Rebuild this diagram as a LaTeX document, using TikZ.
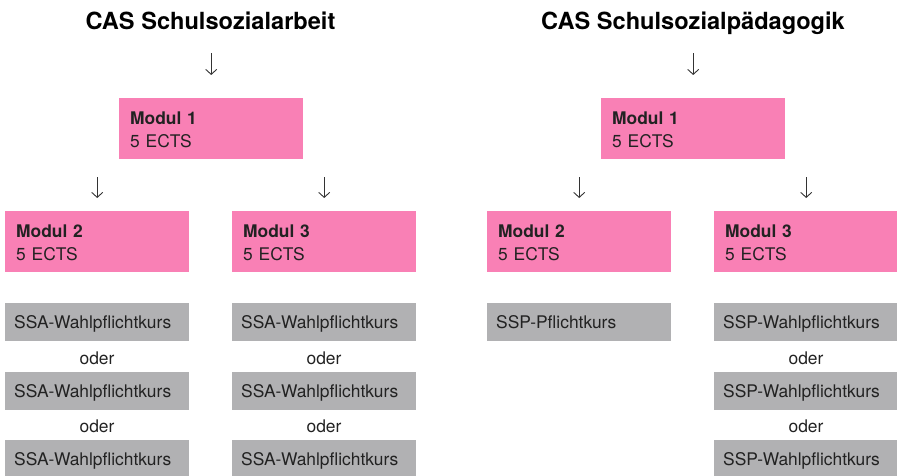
\documentclass[tikz,border=0pt]{standalone}
\usepackage{fontspec}
\setmainfont{TeX Gyre Heros}
\usetikzlibrary{arrows.meta}
\definecolor{pinkc}{HTML}{F980B5}
\definecolor{grayc}{HTML}{B1B1B3}
\definecolor{txtc}{HTML}{222222}
\definecolor{arrc}{HTML}{333333}
\begin{document}
\begin{tikzpicture}[x=1pt,y=-1pt,
 title/.style={font=\fontsize{23.6}{27}\selectfont\bfseries, anchor=base, inner sep=0pt, text=black},
 pinkbox/.style={fill=pinkc, anchor=north west, inner xsep=11pt, inner ysep=12pt, text width=162pt, align=left, text height=14.3pt, text depth=22.7pt, font=\fontsize{17.4}{22.7}\selectfont, text=txtc},
 graybox/.style={fill=grayc, anchor=north west, inner xsep=9pt, inner ysep=0pt, text width=166pt, align=left, text height=25.7pt, text depth=12.3pt, font=\fontsize{17.4}{20}\selectfont, text=txtc},
 oder/.style={anchor=base, inner sep=0pt, font=\fontsize{17.4}{20}\selectfont, text=txtc},
 arr/.style={draw=arrc, line width=0.9pt, -{Straight Barb[length=5pt,width=11pt]}}]
\useasboundingbox (0,0) rectangle (897,476);
% left column
\node[title] (t1) at (210.5,29.3) {CAS Schulsozialarbeit};
\node[pinkbox] (m1) at (119,98) {\textbf{Modul 1}\\5 ECTS};
\node[pinkbox] (m2) at (5,211) {\textbf{Modul 2}\\5 ECTS};
\node[pinkbox] (m3) at (232,211) {\textbf{Modul 3}\\5 ECTS};
\node[graybox] (a1) at (5,303) {SSA-Wahlpflichtkurs};
\node[oder] (ao1) at (97,364) {oder};
\node[graybox] (a2) at (5,372) {SSA-Wahlpflichtkurs};
\node[oder] (ao2) at (97,432) {oder};
\node[graybox] (a3) at (5,440) {SSA-Wahlpflichtkurs};
\node[graybox] (b1) at (232,303) {SSA-Wahlpflichtkurs};
\node[oder] (bo1) at (324,364) {oder};
\node[graybox] (b2) at (232,372) {SSA-Wahlpflichtkurs};
\node[oder] (bo2) at (324,432) {oder};
\node[graybox] (b3) at (232,440) {SSA-Wahlpflichtkurs};
\draw[arr, shorten <=24pt, shorten >=23pt] (t1.base -| m1.north) -- (m1.north);
\draw[arr, shorten <=18pt, shorten >=13pt] (m1.south -| m2.north) -- (m2.north);
\draw[arr, shorten <=18pt, shorten >=13pt] (m1.south -| m3.north) -- (m3.north);
% right column
\node[title] (t2) at (693,29.3) {CAS Schulsozialpädagogik};
\node[pinkbox] (n1) at (601,98) {\textbf{Modul 1}\\5 ECTS};
\node[pinkbox] (n2) at (487,211) {\textbf{Modul 2}\\5 ECTS};
\node[pinkbox] (n3) at (714,211) {\textbf{Modul 3}\\5 ECTS};
\node[graybox] (c1) at (487,303) {SSP-Pflichtkurs};
\node[graybox] (d1) at (714,303) {SSP-Wahlpflichtkurs};
\node[oder] (do1) at (806,364) {oder};
\node[graybox] (d2) at (714,372) {SSP-Wahlpflichtkurs};
\node[oder] (do2) at (806,432) {oder};
\node[graybox] (d3) at (714,440) {SSP-Wahlpflichtkurs};
\draw[arr, shorten <=24pt, shorten >=23pt] (t2.base -| n1.north) -- (n1.north);
\draw[arr, shorten <=18pt, shorten >=13pt] (n1.south -| n2.north) -- (n2.north);
\draw[arr, shorten <=18pt, shorten >=13pt] (n1.south -| n3.north) -- (n3.north);
\end{tikzpicture}
\end{document}
